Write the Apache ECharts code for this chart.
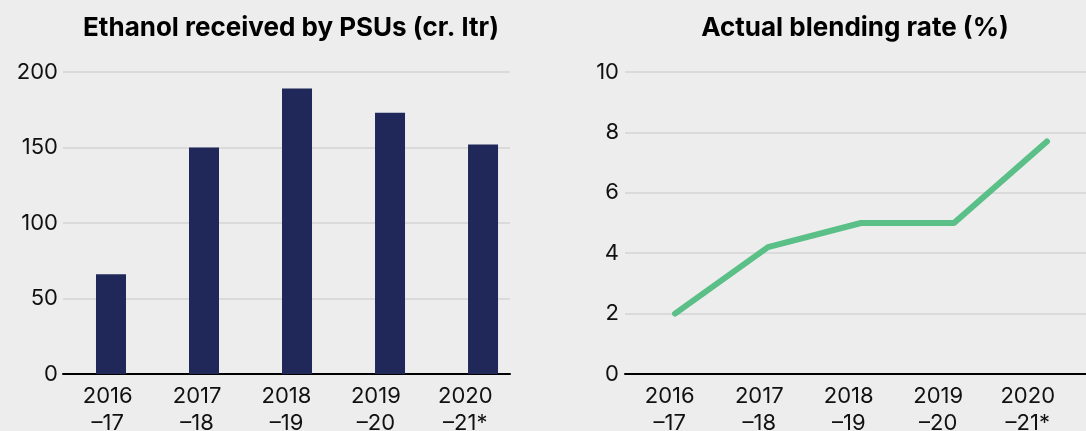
<!DOCTYPE html>
<html>
<head>
<meta charset="utf-8">
<script src="https://cdn.jsdelivr.net/npm/echarts@6/dist/echarts.min.js"></script>
<style>
  html, body { margin: 0; padding: 0; background: #ededed; }
  #chart { width: 1086px; height: 431px; }
</style>
</head>
<body>
<div id="chart"></div>
<script>
// data
const categories = ['2016\n–17', '2017\n–18', '2018\n–19', '2019\n–20', '2020\n–21*'];
const ethanolReceived = [66, 150, 189, 173, 152];   // cr. ltr
const blendingRate = [2.0, 4.2, 5.0, 5.0, 7.7];      // %
const ethanolTicks = [0, 50, 100, 150, 200];
const blendingTicks = [0, 2, 4, 6, 8, 10];

const fontFamily = 'Inter, "Noto Sans", sans-serif';
const textColor = '#111';

const myChart = echarts.init(document.getElementById('chart'));

const indexed = (arr) => arr.map((v, i) => [i, v]);

const option = {
  backgroundColor: '#ededed',
  animation: false,
  textStyle: {fontFamily: fontFamily},
  title: [
    {
      text: 'Ethanol received by PSUs (cr. ltr)',
      left: 286, top: 10, textAlign: 'center',
      textStyle: {fontSize: 26, fontWeight: 'bold', color: '#000', fontFamily: fontFamily}
    },
    {
      text: 'Actual blending rate (%)',
      left: 850, top: 10, textAlign: 'center',
      textStyle: {fontSize: 26, fontWeight: 'bold', color: '#000', fontFamily: fontFamily}
    }
  ],
  grid: [
    {left: 63, top: 72, width: 447, height: 302, outerBoundsMode: 'none'},
    {left: 625, top: 72, width: 461, height: 302, outerBoundsMode: 'none'},
    // label strip for the right chart (labels sit on a slightly narrower band)
    {left: 625, top: 72, width: 447.5, height: 302, outerBoundsMode: 'none'}
  ],
  xAxis: [
    {
      type: 'category', gridIndex: 0, data: categories,
      axisLine: {lineStyle: {color: '#000', width: 2}},
      axisTick: {show: false},
      axisLabel: {color: textColor, fontSize: 22, lineHeight: 27, margin: 9}
    },
    {
      // positions the bars
      type: 'value', gridIndex: 0, min: -0.516, max: 4.29, show: false
    },
    {
      // positions the line points, draws the zero line
      type: 'value', gridIndex: 1, min: -0.538, max: 4.42,
      axisLine: {show: true, onZero: false, lineStyle: {color: '#000', width: 2}},
      axisTick: {show: false}, axisLabel: {show: false}, splitLine: {show: false}
    },
    {
      type: 'category', gridIndex: 2, data: categories,
      axisLine: {show: false}, axisTick: {show: false},
      axisLabel: {color: textColor, fontSize: 22, lineHeight: 27, margin: 9}
    }
  ],
  yAxis: [
    {
      type: 'value', gridIndex: 0, min: 0, max: 200, interval: 50,
      axisLine: {show: false}, axisTick: {show: false},
      axisLabel: {color: textColor, fontSize: 22, margin: 5,
        formatter: (v) => ethanolTicks.includes(v) ? String(v) : ''},
      splitLine: {lineStyle: {color: '#d3d3d3', width: 1.5}}
    },
    {
      type: 'value', gridIndex: 1, min: 0, max: 10, interval: 2,
      axisLine: {show: false}, axisTick: {show: false},
      axisLabel: {color: textColor, fontSize: 22, margin: 6,
        formatter: (v) => blendingTicks.includes(v) ? String(v) : ''},
      splitLine: {lineStyle: {color: '#d3d3d3', width: 1.5}}
    },
    {
      type: 'value', gridIndex: 2, min: 0, max: 10, show: false
    }
  ],
  series: [
    {
      name: 'Ethanol received by PSUs',
      type: 'bar',
      xAxisIndex: 1, yAxisIndex: 0,
      barWidth: 30,
      itemStyle: {color: '#1f2859'},
      data: indexed(ethanolReceived)
    },
    {
      name: 'Actual blending rate',
      type: 'line',
      xAxisIndex: 2, yAxisIndex: 1,
      symbol: 'none',
      lineStyle: {color: '#5bbf88', width: 6, cap: 'round', join: 'round'},
      data: indexed(blendingRate)
    }
  ]
};
myChart.setOption(option);
</script>
</body>
</html>
